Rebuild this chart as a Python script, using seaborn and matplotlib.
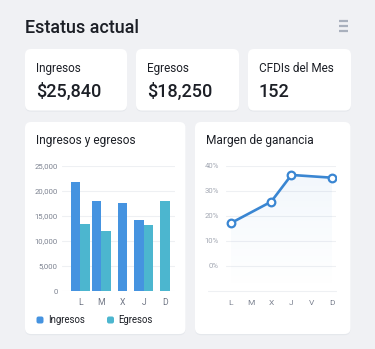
import numpy as np
import pandas as pd
import matplotlib
matplotlib.use("Agg")
import matplotlib.pyplot as plt
import seaborn as sns
from matplotlib.patches import FancyBboxPatch, Polygon
from matplotlib.lines import Line2D
from matplotlib.transforms import IdentityTransform
from matplotlib.colors import LinearSegmentedColormap
from matplotlib.ticker import FuncFormatter

# ---------------- data ----------------
kpi_labels = ["Ingresos", "Egresos", "CFDIs del Mes"]
kpi_values = ["$25,840", "$18,250", "152"]

bar_days = ["L", "M", "X", "J", "D"]
ingresos = [21800, 18000, 17500, 14200, np.nan]
egresos = [13300, 11900, np.nan, 13200, 17900]
bar_ticks = [0, 5000, 10000, 15000, 20000, 25000]

line_days = ["L", "M", "X", "J", "V", "D"]
margen = [17.0, np.nan, 25.6, 36.3, np.nan, 35.2]
line_ticks = [0, 10, 20, 30, 40]

# ---------------- style ----------------
BG = "#f0f1f4"
DARK = "#1c1f26"
BLUE = "#4593e0"
TEAL = "#4cb6cf"
LINE = "#3a86d2"
GRID = "#eef0f3"

sns.set_theme(style="white")
plt.rcParams["font.family"] = ["Roboto", "DejaVu Sans"]

W, H = 375, 349
fig = plt.figure(figsize=(W / 100, H / 100), dpi=100, facecolor=BG)
T = IdentityTransform()


def card(x0, y0, x1, y1):
    sh = FancyBboxPatch((x0, H - y1 - 1.2), x1 - x0, y1 - y0,
                        boxstyle="round,pad=0,rounding_size=6",
                        transform=T, fc="#dfe2e8", ec="none", alpha=0.6, zorder=-2)
    fig.add_artist(sh)
    p = FancyBboxPatch((x0, H - y1), x1 - x0, y1 - y0,
                       boxstyle="round,pad=0,rounding_size=6",
                       transform=T, fc="white", ec="none", zorder=-1)
    fig.add_artist(p)


def txt(x, y, s, **kw):
    fig.text(x, H - y, s, transform=T, **kw)


# header
txt(25, 32.7, "Estatus actual", fontsize=13.0, color=DARK, weight="medium", va="baseline")
for yy in (20.5, 25.5, 30.5):
    fig.add_artist(Line2D([338.5, 347.5], [H - yy, H - yy], transform=T,
                          color="#a9b0bd", lw=1.6, solid_capstyle="butt"))

# KPI cards
card_x = [(25, 127), (136, 239), (248, 351)]
for (x0, x1), lab, val in zip(card_x, kpi_labels, kpi_values):
    card(x0, 49, x1, 110.5)
    txt(x0 + 11, 71.7, lab, fontsize=8.5, color=DARK, va="baseline")
    txt(x0 + 11, 97.3, val, fontsize=13, color=DARK, weight="medium", va="baseline")

# chart cards
card(25, 122, 185.5, 334)
card(195, 122, 350.5, 334)
txt(36, 144, "Ingresos y egresos", fontsize=8.6, color=DARK, va="baseline")
txt(206, 144, "Margen de ganancia", fontsize=8.6, color=DARK, va="baseline")


def add_ax(left, right, top, bottom):
    return fig.add_axes([left / W, 1 - bottom / H, (right - left) / W, (bottom - top) / H])


# ---------------- bar chart ----------------
ax1 = add_ax(62, 175, 165.7, 291)
ax1.set_facecolor("none")
df = pd.DataFrame({
    "dia": bar_days * 2,
    "serie": ["Ingresos"] * len(bar_days) + ["Egresos"] * len(bar_days),
    "monto": ingresos + egresos,
})
sns.barplot(data=df, x="dia", y="monto", hue="serie", order=bar_days,
            hue_order=["Ingresos", "Egresos"], palette=[BLUE, TEAL],
            width=0.9, saturation=1, ax=ax1, legend=False, zorder=2,
            linewidth=0, edgecolor="none")
# center bars whose partner value is missing
missing = {i for i in range(len(bar_days)) if np.isnan(ingresos[i]) or np.isnan(egresos[i])}
for cont in ax1.containers:
    for b in cont:
        c = int(round(b.get_x() + b.get_width() / 2))
        if c in missing:
            b.set_x(c - b.get_width() / 2)
ax1.set_ylim(0, 25000)
ax1.set_xlim(-0.86, 4.47)
ax1.set_yticks(bar_ticks)
ax1.yaxis.set_major_formatter(FuncFormatter(lambda v, p: f"{v:,.0f}"))
ax1.grid(axis="y", color=GRID, lw=0.8, zorder=0)
ax1.set_axisbelow(True)
for s in ax1.spines.values():
    s.set_visible(False)
ax1.tick_params(axis="y", length=0, pad=3, labelsize=5.6, labelcolor="#7d8391")
ax1.tick_params(axis="x", length=0, pad=5, labelsize=6.2, labelcolor="#6f7584")
ax1.set_xlabel("")
ax1.set_ylabel("")

# legend
for cx, lab, col in ((40, "Ingresos", BLUE), (110.5, "Egresos", TEAL)):
    fig.add_artist(FancyBboxPatch((cx - 3.5, H - 323.5), 7, 7,
                                  boxstyle="round,pad=0,rounding_size=2",
                                  transform=T, fc=col, ec="none"))
    txt(cx + 7.7, 320, lab, fontsize=6.9, color=DARK, va="center")

# ---------------- line chart ----------------
ax2 = add_ax(226, 336, 165.7, 290.7)
ax2.set_facecolor("none")
df2 = pd.DataFrame({"dia": line_days, "margen": margen})
sns.lineplot(data=df2, x="dia", y="margen", ax=ax2, color=LINE, lw=1.9,
             marker="o", markersize=5.5, markerfacecolor="white",
             markeredgecolor=LINE, markeredgewidth=1.6, zorder=3)
ax2.set_xticks(range(len(line_days)))
ax2.set_xticklabels(line_days)
xy = ax2.lines[0].get_xydata()
xy = xy[~np.isnan(xy[:, 1])]
poly = np.vstack([xy, [[xy[-1, 0], -10], [xy[0, 0], -10]]])
polygon = Polygon(poly, closed=True, transform=ax2.transData, fc="none", ec="none")
ax2.add_patch(polygon)
cmap = LinearSegmentedColormap.from_list("g", [(0.23, 0.51, 0.82, 0.0), (0.23, 0.51, 0.82, 0.07)])
grad = np.linspace(1, 0, 100).reshape(-1, 1)
img = ax2.imshow(grad, extent=[xy[0, 0], xy[-1, 0], -10, 40], aspect="auto",
                 cmap=cmap, origin="upper", zorder=1)
img.set_clip_path(polygon)
ax2.set_xlim(-0.23, 5.2)
ax2.set_ylim(-10, 40)
ax2.set_yticks(line_ticks)
ax2.set_yticklabels([f"{t}%" for t in line_ticks])
ax2.grid(axis="y", color=GRID, lw=0.8, zorder=0)
ax2.axhline(-10, xmin=-18 / 110, xmax=1, color=GRID, lw=0.8, clip_on=False, zorder=0)
ax2.set_axisbelow(True)
for s in ax2.spines.values():
    s.set_visible(False)
ax2.tick_params(axis="y", length=0, pad=5, labelsize=5.6, labelcolor="#a3a8b3")
ax2.tick_params(axis="x", length=0, pad=7, labelsize=6, labelcolor="#7d8391")
ax2.set_xlabel("")
ax2.set_ylabel("")

fig.savefig("out.png", dpi=100, facecolor=BG)
